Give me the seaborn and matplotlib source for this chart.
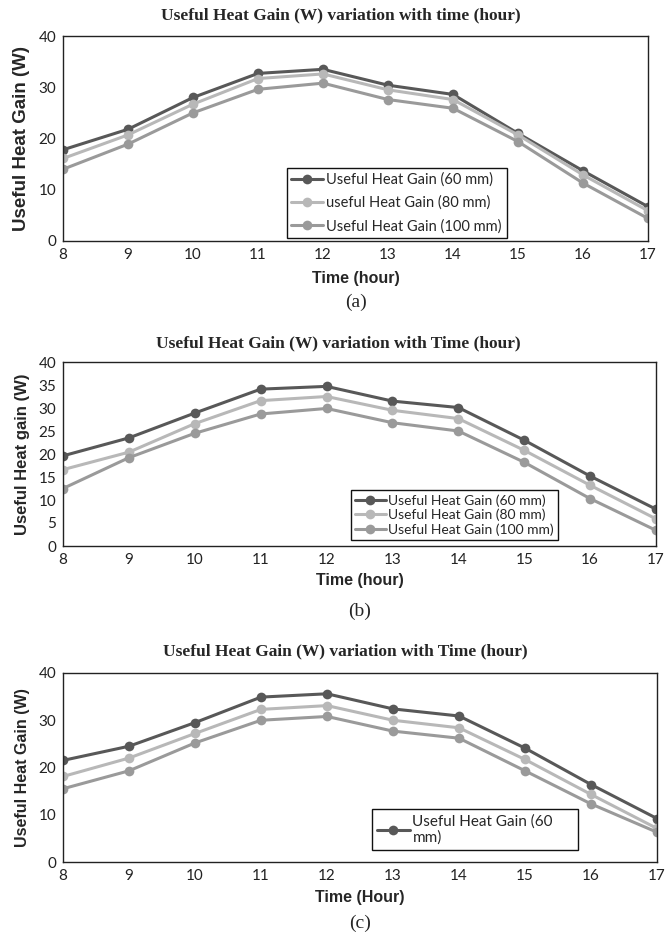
import numpy as np
import pandas as pd
import matplotlib
matplotlib.use("Agg")
import matplotlib.pyplot as plt
import seaborn as sns

sns.set_theme(style="white")

# ── data ───────────────────────────────────────────────────────────────────
hours = [8, 9, 10, 11, 12, 13, 14, 15, 16, 17]

a_60 = [17.8, 21.8, 28.0, 32.7, 33.5, 30.4, 28.6, 21.0, 13.7, 6.7]
a_80 = [16.1, 20.7, 26.7, 31.7, 32.6, 29.5, 27.6, 20.7, 12.9, 5.9]
a_100 = [14.0, 18.9, 25.0, 29.6, 30.8, 27.6, 25.9, 19.4, 11.3, 4.4]

b_60 = [19.6, 23.5, 28.9, 34.1, 34.7, 31.5, 30.1, 23.0, 15.2, 8.0]
b_80 = [16.6, 20.4, 26.6, 31.6, 32.5, 29.5, 27.7, 20.8, 13.2, 5.9]
b_100 = [12.5, 19.2, 24.5, 28.7, 29.9, 26.8, 25.0, 18.2, 10.3, 3.4]

c_60 = [21.5, 24.5, 29.5, 34.9, 35.6, 32.4, 30.9, 24.1, 16.4, 9.2]
c_80 = [18.1, 22.0, 27.2, 32.3, 33.1, 30.0, 28.4, 21.7, 14.3, 7.1]
c_100 = [15.5, 19.3, 25.2, 30.0, 30.8, 27.7, 26.2, 19.3, 12.3, 6.3]

series_names = ["60 mm", "80 mm", "100 mm"]
COLORS = {"60 mm": "#585858", "80 mm": "#b8b8b8", "100 mm": "#9a9a9a"}

W, H = 665, 938
fig = plt.figure(figsize=(W / 100, H / 100), dpi=100)

SERIF = ["Liberation Serif", "DejaVu Serif"]
SANS = ["Liberation Sans", "DejaVu Sans"]
TICKF = ["Lato", "Liberation Sans", "DejaVu Sans"]


def px_axes(left, right, top, bottom):
    return fig.add_axes([left / W, 1 - bottom / H, (right - left) / W, (bottom - top) / H])


def draw_panel(ax, values, ystep, title, title_y, title_x, ylabel, ylab_size,
               xlabel, xlabel_y, tag, tag_y, legend_labels, legend_box, leg_space, leg_size):
    df = pd.DataFrame({
        "hour": hours * 3,
        "gain": sum(values, []),
        "series": [s for s in series_names for _ in hours],
    })
    sns.lineplot(data=df, x="hour", y="gain", hue="series", palette=COLORS,
                 marker="o", markersize=7, markeredgewidth=0, linewidth=2.2,
                 ax=ax, legend=False)
    ax.set_xlim(8, 17)
    ax.set_ylim(0, 40)
    ax.set_xticks(hours)
    ax.set_yticks(np.arange(0, 41, ystep))
    ax.tick_params(length=0, pad=5, labelsize=11, labelcolor="#222222")
    for lab in ax.get_xticklabels() + ax.get_yticklabels():
        lab.set_family(TICKF)
    for sp in ax.spines.values():
        sp.set_color("#222222")
        sp.set_linewidth(1.0)
    ax.set_xlabel("")
    ax.set_ylabel(ylabel, fontsize=ylab_size, fontweight="bold", family=SANS, labelpad=6)

    # axes centre in figure coords for x label and panel tag
    pos = ax.get_position()
    xc = pos.x0 + pos.width / 2
    fig.text(title_x / W, 1 - title_y / H, title, ha="center", va="center",
             fontsize=12.5, fontweight="bold", family=SERIF)
    fig.text(xc, 1 - xlabel_y / H, xlabel, ha="center", va="center",
             fontsize=11.5, fontweight="bold", family=SANS)
    fig.text(xc, 1 - tag_y / H, tag, ha="center", va="center",
             fontsize=14, family=SERIF)

    handles = ax.get_lines()[:len(legend_labels)]
    l, r, t, b = legend_box
    leg = ax.legend(handles, legend_labels, loc="center left",
                    bbox_to_anchor=(l / W, 1 - b / H, (r - l) / W, (b - t) / H),
                    bbox_transform=fig.transFigure, mode="expand",
                    fancybox=False, edgecolor="#111111", framealpha=1,
                    borderpad=0.3, labelspacing=leg_space, handlelength=2.2,
                    handletextpad=0.15, borderaxespad=0,
                    prop={"family": TICKF, "size": leg_size})
    leg.get_frame().set_linewidth(1.0)


ax_a = px_axes(63, 648, 36, 241)
draw_panel(ax_a, [a_60, a_80, a_100], 10,
           "Useful Heat Gain (W) variation with time (hour)", 15, 341,
           "Useful Heat Gain (W)", 13.5, "Time (hour)", 278, "(a)", 302,
           ["Useful Heat Gain (60 mm)", "useful Heat Gain (80 mm)", "Useful Heat Gain (100 mm)"],
           (287, 507, 167, 239), 0.6, 10.5)

ax_b = px_axes(63, 656, 362, 546)
draw_panel(ax_b, [b_60, b_80, b_100], 5,
           "Useful Heat Gain (W) variation with Time (hour)", 343, 338,
           "Useful Heat gain (W)", 12, "Time (hour)", 581, "(b)", 611,
           ["Useful Heat Gain (60 mm)", "Useful Heat Gain (80 mm)", "Useful Heat Gain (100 mm)"],
           (351, 558, 490, 540), 0.15, 10)

ax_c = px_axes(63, 657, 673, 862)
draw_panel(ax_c, [c_60, c_80, c_100], 10,
           "Useful Heat Gain (W) variation with Time (hour)", 651, 345,
           "Useful Heat Gain (W)", 11.5, "Time (Hour)", 897, "(c)", 923,
           ["Useful Heat Gain (60\nmm)"],
           (372, 578, 804, 855), 0.3, 11)

fig.savefig("out.png", dpi=100)
